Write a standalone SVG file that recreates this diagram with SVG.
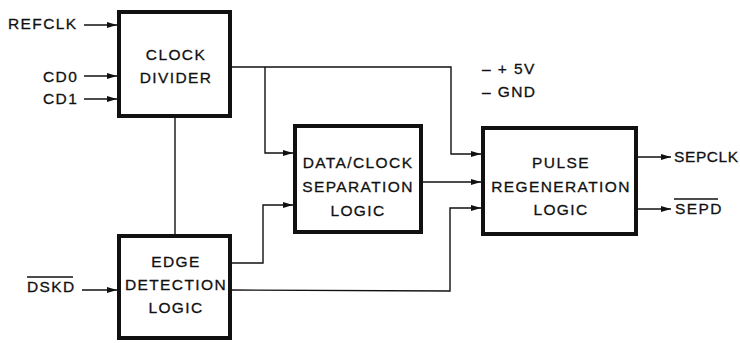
<svg xmlns="http://www.w3.org/2000/svg" width="740" height="343" viewBox="0 0 740 343">
<style>
.box{fill:none;stroke:#111;stroke-width:4}
.w{fill:none;stroke:#111;stroke-width:1.4}
.t{font-family:"Liberation Sans",Arial,sans-serif;font-size:15.5px;letter-spacing:1.4px;fill:#111;stroke:#111;stroke-width:0.3}
.c{text-anchor:middle}
</style>
<defs>
<marker id="ah" markerUnits="userSpaceOnUse" markerWidth="11" markerHeight="8" refX="10" refY="3.5" orient="auto">
<path d="M0,0.5 L10,3.5 L0,6.5 z" fill="#111"/>
</marker>
</defs>
<rect width="740" height="343" fill="#fff"/>
<g id="connectors">
<line class="w" x1="84" y1="25" x2="117" y2="25" marker-end="url(#ah)"/>
<line class="w" x1="84" y1="76" x2="117" y2="76" marker-end="url(#ah)"/>
<line class="w" x1="84" y1="99" x2="117" y2="99" marker-end="url(#ah)"/>
<line class="w" x1="82" y1="290" x2="117" y2="290" marker-end="url(#ah)"/>
<line class="w" x1="175" y1="118" x2="175" y2="234"/>
<polyline class="w" points="232,67 451,67 451,154 481,154" marker-end="url(#ah)"/>
<polyline class="w" points="265,67 265,153 293,153" marker-end="url(#ah)"/>
<polyline class="w" points="232,263 263,263 263,205 293,205" marker-end="url(#ah)"/>
<polyline class="w" points="232,290 450,291 450,208 481,208" marker-end="url(#ah)"/>
<line class="w" x1="423" y1="182" x2="481" y2="182" marker-end="url(#ah)"/>
<line class="w" x1="638" y1="157" x2="671" y2="157" marker-end="url(#ah)"/>
<line class="w" x1="638" y1="209" x2="671" y2="209" marker-end="url(#ah)"/>
</g>
<g id="inputs">
<text class="t" x="8" y="29">REFCLK</text>
<text class="t" x="43" y="82">CD0</text>
<text class="t" x="43" y="104">CD1</text>
<text class="t" x="27" y="292">DSKD</text>
<line x1="27" y1="277" x2="73" y2="277" stroke="#111" stroke-width="1.3"/>
</g>
<g id="clock-divider">
<rect class="box" x="119" y="12" width="111" height="104"/>
<text class="t c" x="176" y="60">CLOCK</text>
<text class="t c" x="176" y="83">DIVIDER</text>
</g>
<g id="edge-detection">
<rect class="box" x="119" y="236" width="111" height="102"/>
<text class="t c" x="176" y="267">EDGE</text>
<text class="t c" x="176" y="290">DETECTION</text>
<text class="t c" x="176" y="313">LOGIC</text>
</g>
<g id="data-clock-separation">
<rect class="box" x="295" y="126" width="126" height="106"/>
<text class="t c" x="358" y="168">DATA/CLOCK</text>
<text class="t c" x="358" y="192">SEPARATION</text>
<text class="t c" x="358" y="216">LOGIC</text>
</g>
<g id="pulse-regeneration">
<rect class="box" x="483" y="128" width="153" height="106"/>
<text class="t c" x="561" y="168">PULSE</text>
<text class="t c" x="561" y="192">REGENERATION</text>
<text class="t c" x="561" y="215">LOGIC</text>
</g>
<g id="power">
<text class="t" x="482" y="74">– + 5V</text>
<text class="t" x="482" y="97">– GND</text>
</g>
<g id="outputs">
<text class="t" x="674" y="162" style="letter-spacing:0.6px">SEPCLK</text>
<text class="t" x="675" y="214">SEPD</text>
<line x1="674" y1="199" x2="718" y2="199" stroke="#111" stroke-width="1.3"/>
</g>
</svg>
